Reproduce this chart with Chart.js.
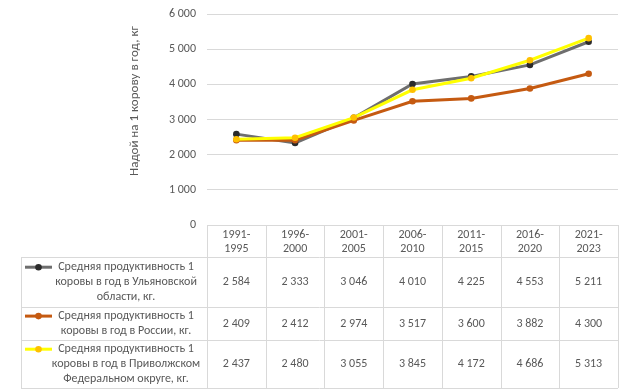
<!DOCTYPE html>
<html>
<head>
<meta charset="utf-8">
<script src="https://cdn.jsdelivr.net/npm/chart.js@4.4.1/dist/chart.umd.min.js"></script>
<style>
    html, body { margin: 0; padding: 0; background: #fff; }
</style>
</head>
<body>
<canvas id="milkChart" width="622" height="390"></canvas>
<script>
const periods = [
    ['1991-', '1995'], ['1996-', '2000'], ['2001-', '2005'], ['2006-', '2010'],
    ['2011-', '2015'], ['2016-', '2020'], ['2021-', '2023']
];
const ulyanovsk = [2584, 2333, 3046, 4010, 4225, 4553, 5211];
const russia = [2409, 2412, 2974, 3517, 3600, 3882, 4300];
const volga = [2437, 2480, 3055, 3845, 4172, 4686, 5313];
const seriesNames = [
    ['Средняя продуктивность 1', 'коровы в год в Ульяновской', 'области, кг.'],
    ['Средняя продуктивность 1', 'коровы в год в России, кг.'],
    ['Средняя продуктивность 1', 'коровы в год в Приволжском', 'Федеральном округе, кг.']
];
const yTitle = 'Надой на 1 корову в год, кг';

const FONT = "Carlito, Lato, 'Liberation Sans', sans-serif";
const TEXT = '#595959';
const GRID = '#d9d9d9';

const fmt = (v) => String(v).replace(/\B(?=(\d{3})+(?!\d))/g, ' ');

// data table under the plot, like the Excel one
const tablePlugin = {
    id: 'dataTable',
    afterDraw(chart) {
        const { ctx, chartArea, scales: { x } } = chart;
        const step = x.getPixelForValue(1) - x.getPixelForValue(0);
        const left = chartArea.left;
        const right = chartArea.right;
        const tableLeft = 21;
        const top = chartArea.bottom;
        const rows = [top, top + 32, top + 82, top + 115, top + 163];

        ctx.save();
        ctx.strokeStyle = GRID;
        ctx.lineWidth = 1;
        ctx.beginPath();
        // header row top only over the value columns
        ctx.moveTo(left, Math.round(rows[0]) + 0.5);
        ctx.lineTo(right, Math.round(rows[0]) + 0.5);
        for (let r = 1; r < rows.length; r++) {
            ctx.moveTo(tableLeft, Math.round(rows[r]) + 0.5);
            ctx.lineTo(right, Math.round(rows[r]) + 0.5);
        }
        ctx.moveTo(tableLeft + 0.5, rows[1]);
        ctx.lineTo(tableLeft + 0.5, rows[4]);
        for (let i = 0; i <= periods.length; i++) {
            const px = Math.round(left + i * step) + 0.5;
            ctx.moveTo(px, rows[0]);
            ctx.lineTo(px, rows[4]);
        }
        ctx.stroke();

        ctx.fillStyle = TEXT;
        ctx.font = '12px ' + FONT;
        ctx.textAlign = 'center';
        ctx.textBaseline = 'middle';
        periods.forEach((p, i) => {
            const cx = x.getPixelForValue(i);
            ctx.fillText(p[0], cx, rows[0] + 10);
            ctx.fillText(p[1], cx, rows[0] + 24);
        });

        chart.data.datasets.forEach((ds, r) => {
            const cy = (rows[r + 1] + rows[r + 2]) / 2;
            ds.data.forEach((v, i) => {
                ctx.fillText(fmt(v), x.getPixelForValue(i), cy);
            });
            // legend key
            const names = seriesNames[r];
            const lh = 14.8;
            const firstY = cy - (names.length - 1) * lh / 2;
            ctx.strokeStyle = ds.borderColor;
            ctx.lineWidth = ds.borderWidth;
            ctx.beginPath();
            ctx.moveTo(25, firstY);
            ctx.lineTo(52, firstY);
            ctx.stroke();
            ctx.beginPath();
            ctx.arc(38.5, firstY, ds.pointRadius, 0, Math.PI * 2);
            ctx.fillStyle = ds.pointBackgroundColor;
            ctx.fill();
            ctx.fillStyle = TEXT;
            names.forEach((t, k) => ctx.fillText(t, 126, firstY + k * lh));
        });

        // y axis title
        ctx.translate(135, 101);
        ctx.rotate(-Math.PI / 2);
        ctx.font = '13px ' + FONT;
        ctx.fillText(yTitle, 0, 0);
        ctx.restore();
    }
};

new Chart(document.getElementById('milkChart'), {
    type: 'line',
    data: {
        labels: periods.map(p => p.join('')),
        datasets: [
            {
                label: seriesNames[0].join(' '),
                data: ulyanovsk,
                borderColor: '#6e6e6e',
                borderWidth: 3,
                pointBackgroundColor: '#2b2b2b',
                pointBorderWidth: 0,
                pointRadius: 3.3,
                order: 2
            },
            {
                label: seriesNames[1].join(' '),
                data: russia,
                borderColor: '#c55a11',
                borderWidth: 3,
                pointBackgroundColor: '#c55a11',
                pointBorderWidth: 0,
                pointRadius: 3.3,
                order: 1
            },
            {
                label: seriesNames[2].join(' '),
                data: volga,
                borderColor: '#ffff00',
                borderWidth: 3,
                pointBackgroundColor: '#ffc000',
                pointBorderWidth: 0,
                pointRadius: 3.3,
                order: 0
            }
        ]
    },
    options: {
        responsive: false,
        animation: false,
        layout: { padding: { top: 14, bottom: 165, left: 0, right: 0 } },
        plugins: {
            legend: { display: false },
            tooltip: { enabled: false }
        },
        scales: {
            x: { display: false, offset: true },
            y: {
                min: 0,
                max: 6000,
                afterFit: (s) => {
                    s.width = 207;
                    s.paddingTop = 0;
                    s.paddingBottom = 0;
                },
                border: { display: false },
                grid: { color: GRID, drawTicks: false },
                ticks: {
                    stepSize: 1000,
                    padding: 11,
                    color: TEXT,
                    font: { family: FONT, size: 12 },
                    callback: (v) => fmt(v)
                }
            }
        }
    },
    plugins: [tablePlugin]
});
</script>
</body>
</html>
